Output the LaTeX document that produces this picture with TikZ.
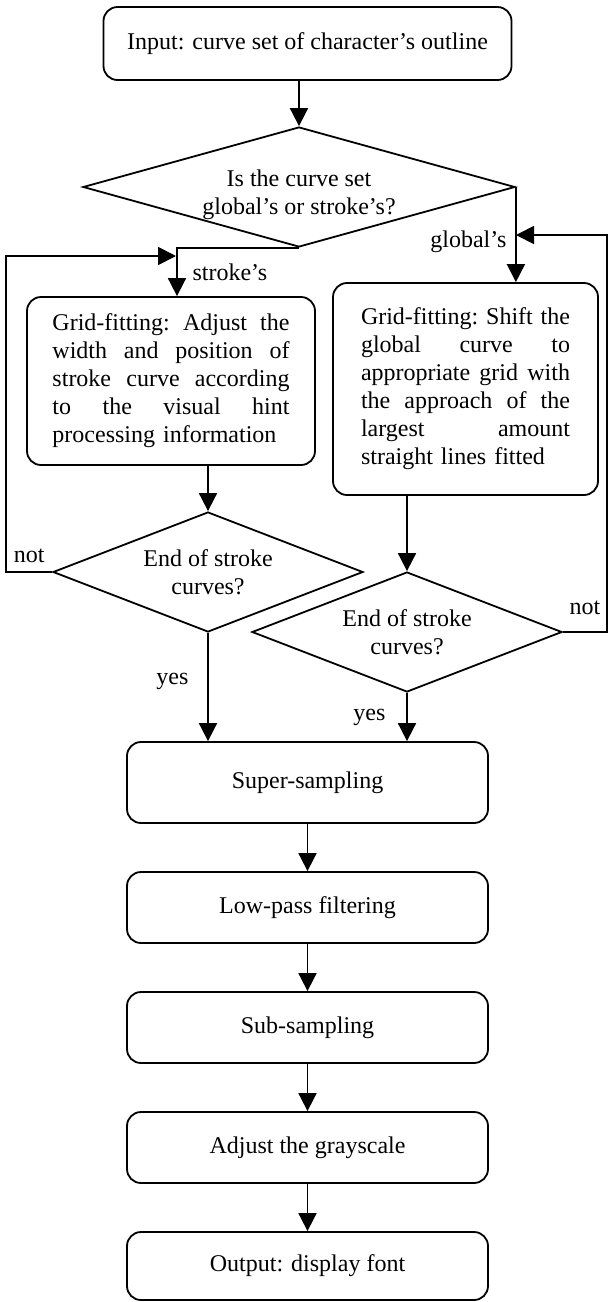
\documentclass[tikz,border=0pt]{standalone}
\usepackage{fontspec}
\setmainfont{Liberation Serif}
\usetikzlibrary{arrows.meta, shapes.geometric, positioning, calc}
\newcommand{\fillline}[1]{\hbox to \linewidth{#1}}

\begin{document}
\begin{tikzpicture}[x=0.5pt, y=-0.5pt, >={Triangle[width=9pt,length=9pt]}, line width=0.9pt,
    font=\fontsize{12}{14}\selectfont,
    box/.style={draw, rounded corners=7pt, align=center, inner sep=0pt},
    decision/.style={draw, diamond, inner sep=0pt, align=center}]
    \useasboundingbox (0,0) rectangle (609,1302);

    \node[box, minimum width=204pt, minimum height=36.5pt] (in) at (307.5,43.5) {Input: curve set of character's outline};
    \node[decision, aspect=3.6, minimum width=216pt, minimum height=60pt] (ask) at (299,187) {\\[2pt]Is the curve set\\global's or stroke's?};

    \node[box, minimum width=144pt, minimum height=84pt, text width=118.5pt, align=left] (strk) at (171,381)
        {\fillline{Grid-fitting:\hfill Adjust\hfill the}
         \fillline{width\hfill and\hfill position\hfill of}
         \fillline{stroke\hfill curve\hfill according}
         \fillline{to\hfill the\hfill visual\hfill hint}
         \fillline{processing information\hfil}};
    \node[box, minimum width=132.5pt, minimum height=106pt, text width=104.5pt, align=left] (glob) at (465.5,389)
        {\fillline{Grid-fitting:\hfill Shift\hfill the}
         \fillline{global\hfill curve\hfill to}
         \fillline{appropriate\hfill grid\hfill with}
         \fillline{the\hfill approach\hfill of\hfill the}
         \fillline{largest\hfill amount}
         \fillline{straight lines fitted\hfil}};

    \node[decision, aspect=2.58, minimum width=155pt, minimum height=60pt] (end1) at (208,572) {End of stroke\\curves?};
    \node[decision, aspect=2.58, minimum width=155pt, minimum height=60pt] (end2) at (407,632) {End of stroke\\curves?};

    \node[box, minimum width=180.5pt, minimum height=40.5pt] (super) at (307.5,782.5) {Super-sampling};
    \node[box, minimum width=180.5pt, minimum height=35.5pt] (low) at (307.5,907.5) {Low-pass filtering};
    \node[box, minimum width=180.5pt, minimum height=35.5pt] (sub) at (307.5,1027.5) {Sub-sampling};
    \node[box, minimum width=180.5pt, minimum height=35.5pt] (gray) at (307.5,1147.5) {Adjust the grayscale};
    \node[box, minimum width=180.5pt, minimum height=34pt] (out) at (307.5,1266) {Output: display font};

    % loop entries
    \coordinate (loopin) at (176,256);
    \coordinate (rloopin) at (516,235);

    \draw[->] (in.south -| ask.north) -- (ask.north);
    \draw[->] (ask.south) -| ($(strk.north)+(6,0)$) node[pos=0.75, right=4pt] {stroke's};
    \draw[->] (ask.east) -- (ask.east |- glob.north) node[pos=0.58, left=1pt] {global's};

    \draw[->] (strk.south -| end1.north) -- (end1.north);
    \draw[->] (glob.south -| end2.north) -- (end2.north);

    \draw[->] (end1.west) -- ++(-46,0) node[midway, above=1pt] {not} |- (loopin);
    \draw[->] (end2.east) -- ++(44,0) node[midway, above=5pt] {not} |- (rloopin);

    \draw[->] (end1.south) -- (end1.south |- super.north) node[pos=0.45, left=6pt] {yes};
    \draw[->] (end2.south) -- (end2.south |- super.north) node[midway, left=7pt] {yes};

    \draw[->] (super) -- (low);
    \draw[->] (low) -- (sub);
    \draw[->] (sub) -- (gray);
    \draw[->] (gray) -- (out);
\end{tikzpicture}
\end{document}
